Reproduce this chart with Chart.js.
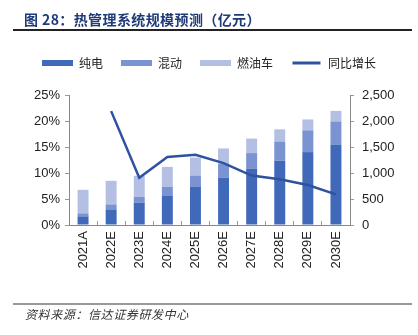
<!DOCTYPE html>
<html>
<head>
<meta charset="utf-8">
<script src="https://cdn.jsdelivr.net/npm/chart.js@4.4.0/dist/chart.umd.min.js"></script>
<style>
  html, body { margin: 0; padding: 0; background: #fff; }
  #wrap { position: relative; width: 418px; height: 335px; overflow: hidden; }
  #myChart { position: absolute; left: 0; top: 0; }
  .title {
    position: absolute; left: 24px; top: 10px;
    font: bold 14px "Noto Sans CJK SC", sans-serif; color: #1f3a78;
    line-height: 18px; white-space: nowrap; letter-spacing: 0.4px;
  }
  .rule-top { position: absolute; left: 13px; width: 399px; top: 29px; height: 1.5px; background: #222; }
  .rule-bot { position: absolute; left: 13px; width: 399px; top: 303px; height: 2px; background: #999; }
  .source {
    position: absolute; left: 25px; top: 306px;
    font: italic 12px "Noto Sans CJK SC", sans-serif; color: #333;
    line-height: 16px; white-space: nowrap; letter-spacing: 0.6px;
  }
</style>
</head>
<body>
<div id="wrap">
  <canvas id="myChart" width="418" height="335"></canvas>
  <div class="title">图 28：热管理系统规模预测（亿元）</div>
  <div class="rule-top"></div>
  <div class="rule-bot"></div>
  <div class="source">资料来源：信达证券研发中心</div>
</div>
<script>
// dados
const years = ['2021A', '2022E', '2023E', '2024E', '2025E', '2026E', '2027E', '2028E', '2029E', '2030E'];
const pureEV = [166, 300, 428, 569, 741, 907, 1079, 1237, 1402, 1548];   // 纯电
const hybrid = [58, 96, 115, 166, 211, 273, 304, 368, 419, 444];         // 混动
const fuel = [453, 454, 403, 383, 345, 292, 279, 235, 209, 203];         // 燃油车
const growth = [null, 21.9, 9.1, 13.1, 13.5, 11.9, 9.5, 8.8, 7.7, 5.9];   // 同比增长 (%)
const leftTicks = [0, 5, 10, 15, 20, 25];
const rightTicks = [0, 500, 1000, 1500, 2000, 2500];

const FONT = 'Arial, "Liberation Sans", sans-serif';
const COL_DARK = '#4169b9';
const COL_MID = '#7b93d1';
const COL_LIGHT = '#b4c0e3';
const COL_LINE = '#2f52a0';

// empurra a área do gráfico para baixo da legenda
const legendGap = {
    id: 'legendGap',
    beforeLayout(chart) {
        const lg = chart.legend;
        if (lg && !lg._patched) {
            const origFit = lg.fit;
            lg.fit = function () {
                origFit.call(this);
                this.height += 16;
            };
            lg._patched = true;
        }
    }
};

const canvas = document.getElementById('myChart');
new Chart(canvas.getContext('2d'), {
    type: 'bar',
    data: {
        labels: years,
        datasets: [
            { label: '纯电', data: pureEV, backgroundColor: COL_DARK, yAxisID: 'y2', borderWidth: 0, order: 1 },
            { label: '混动', data: hybrid, backgroundColor: COL_MID, yAxisID: 'y2', borderWidth: 0, order: 1 },
            { label: '燃油车', data: fuel, backgroundColor: COL_LIGHT, yAxisID: 'y2', borderWidth: 0, order: 1 },
            {
                type: 'line', label: '同比增长', data: growth, yAxisID: 'y',
                borderColor: COL_LINE, backgroundColor: COL_LINE, borderWidth: 2.5,
                pointRadius: 0, tension: 0, order: 0
            }
        ]
    },
    options: {
        responsive: false,
        animation: false,
        layout: { padding: { top: 39, left: 0, right: 0, bottom: 0 } },
        datasets: { bar: { barPercentage: 0.39, categoryPercentage: 1 } },
        plugins: {
            tooltip: { enabled: false },
            legend: {
                position: 'top',
                labels: {
                    font: { family: '"Noto Sans CJK SC", sans-serif', size: 12 },
                    color: '#222',
                    boxWidth: 31,
                    boxHeight: 6,
                    padding: 18,
                    sort: (a, b) => a.datasetIndex - b.datasetIndex,
                    generateLabels(chart) {
                        return chart.data.datasets.map((ds, i) => {
                            const isLine = ds.type === 'line';
                            return {
                                text: ds.label,
                                fillStyle: isLine ? ds.borderColor : ds.backgroundColor,
                                strokeStyle: '#ffffff',
                                lineWidth: isLine ? 3 : 0,
                                fontColor: '#222',
                                hidden: false,
                                datasetIndex: i
                            };
                        });
                    }
                }
            }
        },
        scales: {
            x: {
                stacked: true,
                grid: { display: true, drawOnChartArea: false, offset: true, tickLength: -4, color: '#999' },
                border: { display: true, color: '#888' },
                ticks: {
                    font: { family: FONT, size: 13 }, color: '#222',
                    minRotation: 90, maxRotation: 90, padding: 10, autoSkip: false
                },
                afterFit(scale) { scale.height = 110; }
            },
            y: {
                position: 'left',
                min: 0, max: 25,
                grid: { display: true, drawOnChartArea: false, tickLength: 4, color: '#999' },
                border: { display: true, color: '#888' },
                afterBuildTicks(scale) { scale.ticks = leftTicks.map(v => ({ value: v })); },
                ticks: {
                    font: { family: FONT, size: 13 }, color: '#222', padding: 5,
                    callback: v => v + '%'
                },
                afterFit(scale) { scale.width = 69; }
            },
            y2: {
                position: 'right',
                stacked: true,
                min: 0, max: 2500,
                grid: { display: true, drawOnChartArea: false, tickLength: 4, color: '#999' },
                border: { display: true, color: '#888' },
                afterBuildTicks(scale) { scale.ticks = rightTicks.map(v => ({ value: v })); },
                ticks: {
                    font: { family: FONT, size: 13 }, color: '#222', padding: 8,
                    callback: v => Number(v).toLocaleString('en-US')
                },
                afterFit(scale) { scale.width = 68; }
            }
        }
    },
    plugins: [legendGap]
});
</script>
</body>
</html>
